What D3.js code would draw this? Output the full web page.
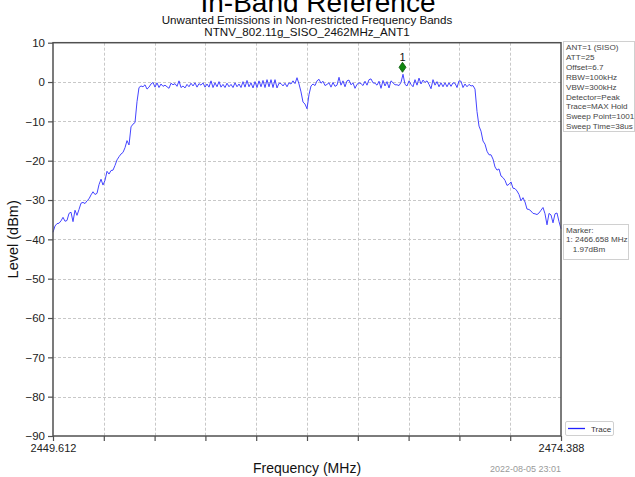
<!DOCTYPE html>
<html>
<head>
<meta charset="utf-8">
<script src="https://cdn.jsdelivr.net/npm/d3@7"></script>
<style>
  html, body { margin: 0; padding: 0; background: #fff; }
  svg { display: block; font-family: "Liberation Sans", Arial, Helvetica, sans-serif; }
</style>
</head>
<body>
<svg id="chart" width="635" height="477"></svg>
<script>
// Sweep settings
const startMHz = 2449.612;
const stopMHz = 2474.388;
const yMin = -90;
const yMax = 10;
const yTicks = [10, 0, -10, -20, -30, -40, -50, -60, -70, -80, -90];
const xTickLabels = ["2449.612", "2474.388"];
const xDivisions = 10;

// Trace level (dBm) at evenly spaced sweep samples from start to stop
const levelDbm = [
  -38.2, -36.6, -36.0, -35.9, -35.3, -34.4, -35.4, -35.2, -33.4, -33.1,
  -35.5, -32.6, -33.9, -32.4, -30.8, -30.6, -30.9, -30.2, -29.7, -28.7,
  -27.9, -28.6, -28.3, -26.1, -24.7, -26.2, -25.0, -22.7, -23.4, -22.5,
  -22.4, -21.2, -19.8, -19.0, -18.3, -17.9, -16.7, -14.9, -16.0, -11.4,
  -10.7, -10.3, -5.0, -1.4, -1.0, -1.2, -0.7, -1.8, -1.3, -0.5,
  -0.1, -1.3, -0.2, -1.4, -0.5, -1.1, -0.8, -1.2, -1.6, -0.3,
  -0.7, -0.4, -1.1, 0.3, -1.4, -1.0, -1.5, -0.6, -1.2, -0.3,
  -1.0, -0.2, -1.3, -0.4, -0.8, -0.2, -1.3, -0.5, -1.3, 0.3,
  -1.4, -0.2, -1.2, 0.1, -1.3, -0.6, -1.4, -0.3, -1.2, -0.6,
  -1.4, -0.2, -1.2, -0.5, -1.4, 0.1, -1.3, 0.4, -1.2, -0.2,
  -1.5, 0.1, -1.4, 0.3, -1.2, 0.4, -1.4, 0.6, -1.2, 0.6,
  -1.4, 0.6, -1.5, -0.3, -0.4, -1.0, -0.3, -1.2, -0.2, -0.5,
  0.3, -0.4, 1.1, -0.5, -2.5, -5.1, -5.6, -6.8, -3.2, -1.0,
  -0.5, -0.9, 0.3, 0.7, -0.3, 0.2, -0.9, -0.6, -0.2, -1.3,
  -0.1, -1.1, -0.8, 1.2, -0.8, 0.3, -1.2, 0.3, 0.5, -0.7,
  -0.2, -1.6, -0.6, -0.2, -0.4, -0.9, 0.2, -0.8, 0.6, 0.8,
  -0.2, -0.3, -0.8, 0.2, -1.6, 0.4, -1.0, 0.1, -1.5, 0.3,
  -0.2, -0.7, -0.7, -0.9, -0.1, 1.97, -0.6, -1.0, 0.3, -0.6,
  -1.2, 0.6, -0.8, 1.0, -0.5, 0.5, -0.1, 0.3, -0.6, -1.7,
  0.6, -0.8, 0.1, -1.2, -0.2, -1.2, -0.2, -1.2, -0.2, -1.1,
  -0.2, -0.3, -1.4, 0.3, 0.2, -1.4, -0.5, -1.2, -0.6, -1.0,
  -0.9, -1.8, -7.5, -11.2, -12.5, -15.0, -15.8, -17.6, -18.5, -18.5,
  -19.6, -21.6, -22.4, -22.1, -23.9, -24.3, -25.0, -26.3, -26.0, -25.4,
  -27.0, -27.1, -27.7, -28.6, -30.2, -29.4, -30.5, -32.3, -32.4, -32.8,
  -33.4, -33.5, -33.7, -33.3, -32.6, -31.9, -33.5, -36.3, -33.4, -33.8,
  -35.8, -33.5, -33.3, -35.5, -37.3
];

// Marker 1 (peak search)
const markerFreq = 2466.658;
const markerLevel = 1.97;

// Instrument settings panel
const settingsLines = [
  "ANT=1 (SISO)", "ATT=25", "Offset=6.7", "RBW=100kHz", "VBW=300kHz",
  "Detector=Peak", "Trace=MAX Hold", "Sweep Point=1001", "Sweep Time=38us"
];
const markerLines = ["Marker:", "1: 2466.658 MHz", "   1.97dBm"];

const pageTitle = "In-Band Reference";
const titleLines = [
  "Unwanted Emissions in Non-restricted Frequency Bands",
  "NTNV_802.11g_SISO_2462MHz_ANT1"
];
const timestamp = "2022-08-05 23:01";

// ---- layout ----
const plot = { left: 53, right: 561, top: 42.7, bottom: 436 };
const svg = d3.select("#chart");

const x = d3.scaleLinear().domain([startMHz, stopMHz]).range([plot.left, plot.right]);
const y = d3.scaleLinear().domain([yMin, yMax]).range([plot.bottom, plot.top]);

const step = (stopMHz - startMHz) / (levelDbm.length - 1);
const trace = levelDbm.map((v, i) => [startMHz + i * step, v]);

const gridXs = d3.range(xDivisions + 1).map(i => startMHz + i * (stopMHz - startMHz) / xDivisions);
const fmtMinus = d => (d < 0 ? "\u2212" + Math.abs(d) : String(d));

// grid
const grid = svg.append("g").attr("stroke", "#c8c8c8").attr("stroke-width", 1).attr("stroke-dasharray", "3,2");
grid.selectAll("line.h").data(yTicks.filter(t => t !== yMin && t !== yMax)).join("line")
  .attr("x1", plot.left).attr("x2", plot.right)
  .attr("y1", d => Math.round(y(d)) + 0.5).attr("y2", d => Math.round(y(d)) + 0.5);
grid.selectAll("line.v").data(gridXs.slice(1, -1)).join("line")
  .attr("y1", plot.top).attr("y2", plot.bottom)
  .attr("x1", d => Math.round(x(d)) + 0.5).attr("x2", d => Math.round(x(d)) + 0.5);

// trace
const line = d3.line().x(d => x(d[0])).y(d => y(d[1]));
svg.append("path").datum(trace)
  .attr("fill", "none").attr("stroke", "#4545ff").attr("stroke-width", 1)
  .attr("stroke-linejoin", "round").attr("d", line);

// frame
svg.append("rect")
  .attr("x", plot.left).attr("y", plot.top)
  .attr("width", plot.right - plot.left).attr("height", plot.bottom - plot.top)
  .attr("fill", "none").attr("stroke", "#505050").attr("stroke-width", 1.5);

// y axis
const yAxis = d3.axisLeft(y).tickValues(yTicks).tickSize(5).tickPadding(3).tickFormat(fmtMinus);
const gy = svg.append("g").attr("transform", `translate(${plot.left},0)`).call(yAxis);
gy.select(".domain").remove();
gy.selectAll(".tick line").attr("stroke", "#505050").attr("stroke-width", 1.2);
gy.selectAll(".tick text").attr("font-size", 11.5).attr("fill", "#222")
  .attr("font-family", "'Liberation Sans', Arial, sans-serif");

// x axis: ticks at every division, labels only at the ends
const xAxis = d3.axisBottom(x).tickValues(gridXs).tickSize(5).tickPadding(3)
  .tickFormat((d, i) => i === 0 ? xTickLabels[0] : (i === gridXs.length - 1 ? xTickLabels[1] : ""));
const gx = svg.append("g").attr("transform", `translate(0,${plot.bottom})`).call(xAxis);
gx.select(".domain").remove();
gx.selectAll(".tick line").attr("stroke", "#505050").attr("stroke-width", 1.2);
gx.selectAll(".tick text").attr("font-size", 11).attr("fill", "#222")
  .attr("font-family", "'Liberation Sans', Arial, sans-serif");

// marker
const mx = x(markerFreq), my = y(markerLevel);
svg.append("path")
  .attr("d", `M${mx},${my - 12} L${mx + 3.5},${my - 7} L${mx},${my - 2} L${mx - 3.5},${my - 7} Z`)
  .attr("fill", "#118811").attr("stroke", "#0a5a0a").attr("stroke-width", 0.8);
svg.append("text").attr("x", mx).attr("y", my - 13.5).attr("text-anchor", "middle")
  .attr("font-size", 11).attr("fill", "#111").text("1");

// titles
svg.append("text").attr("x", 318).attr("y", 12).attr("text-anchor", "middle")
  .attr("font-size", 28).attr("fill", "#000").text(pageTitle);
svg.selectAll("text.title").data(titleLines).join("text")
  .attr("x", 307).attr("y", (d, i) => 24 + i * 12).attr("text-anchor", "middle")
  .attr("font-size", 11.6).attr("fill", "#111").text(d => d);

// axis titles
svg.append("text").attr("x", 307).attr("y", 473).attr("text-anchor", "middle")
  .attr("font-size", 14).attr("fill", "#111").text("Frequency (MHz)");
svg.append("text").attr("transform", `translate(18,${(plot.top + plot.bottom) / 2}) rotate(-90)`)
  .attr("text-anchor", "middle").attr("font-size", 14.5).attr("fill", "#111").text("Level (dBm)");
svg.append("text").attr("x", 561).attr("y", 472).attr("text-anchor", "end")
  .attr("font-size", 9).attr("fill", "#9a9a9a").text(timestamp);

// settings panel
const panel = svg.append("g");
panel.append("rect").attr("x", 563.5).attr("y", 41.5).attr("width", 71).attr("height", 90)
  .attr("fill", "#fff").attr("stroke", "#d0d0d0").attr("stroke-width", 1);
panel.selectAll("text").data(settingsLines).join("text")
  .attr("x", 566).attr("y", (d, i) => 50 + i * 9.9)
  .attr("font-size", 8.1).attr("fill", "#444").text(d => d);

// marker readout
const mbox = svg.append("g");
mbox.append("rect").attr("x", 563.5).attr("y", 224.5).attr("width", 65).attr("height", 35)
  .attr("fill", "#fff").attr("stroke", "#d0d0d0").attr("stroke-width", 1);
mbox.selectAll("text").data(markerLines).join("text")
  .attr("x", 566).attr("y", (d, i) => 232.5 + i * 9.7)
  .attr("xml:space", "preserve").style("white-space", "pre")
  .attr("font-size", 8.1).attr("fill", "#444").text(d => d);

// legend
const lg = svg.append("g");
lg.append("rect").attr("x", 565.5).attr("y", 421.5).attr("width", 48).attr("height", 14).attr("rx", 1.5)
  .attr("fill", "#fff").attr("stroke", "#d0d0d0").attr("stroke-width", 1);
lg.append("line").attr("x1", 568).attr("x2", 585).attr("y1", 428.5).attr("y2", 428.5)
  .attr("stroke", "#2020ff").attr("stroke-width", 1.3);
lg.append("text").attr("x", 591).attr("y", 431.5).attr("font-size", 8).attr("fill", "#333").text("Trace");
</script>
</body>
</html>
